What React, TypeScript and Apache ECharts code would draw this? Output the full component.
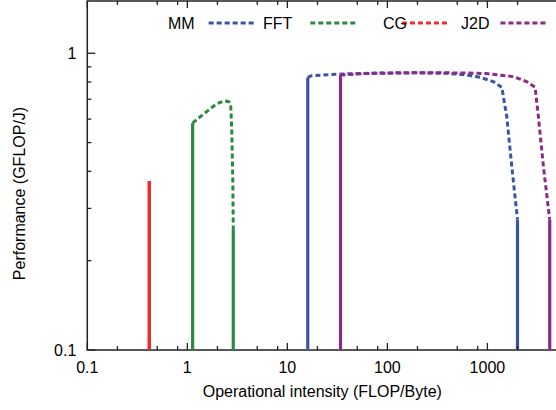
import React, { useEffect, useRef } from "react";
import * as echarts from "echarts";

// ---- Data ----
const kernels = ["MM", "FFT", "CG", "J2D"];

const mmX = [16, 17.5, 26.7, 39, 84.5, 182, 392, 622, 845, 1148, 1393, 1563, 1754, 2000];
const mmY = [0.829, 0.84, 0.847, 0.852, 0.858, 0.86, 0.856, 0.845, 0.83, 0.802, 0.768, 0.611, 0.415, 0.275];

const fftX = [1.13, 1.29, 1.56, 1.96, 2.37, 2.63, 2.72, 2.78, 2.85, 2.88];
const fftY = [0.581, 0.604, 0.636, 0.675, 0.692, 0.685, 0.661, 0.551, 0.374, 0.254];

const cgX = [0.417];
const cgY = [0.371];

const j2dX = [34, 57.5, 124, 267, 575, 986, 1820, 2477, 3000, 3236, 3631, 4200];
const j2dY = [0.845, 0.854, 0.858, 0.86, 0.858, 0.854, 0.834, 0.802, 0.768, 0.611, 0.415, 0.275];

const xMajorTicks = [0.1, 1, 10, 100, 1000];
const xMinorTicks = [0.2, 0.5, 0.8, 2, 5, 8, 20, 50, 80, 200, 500, 800, 2000];
const yMajorTicks = [0.1, 1];
const yMinorTicks = [0.2, 0.3, 0.4, 0.5, 0.6, 0.7, 0.8, 0.9];

const X_MIN = 0.1;
const X_MAX = 5000;
const Y_MIN = 0.1;
const Y_MAX = 1.5;

// ---- Styles ----
const FONT = "'Liberation Sans', Arial, Helvetica, sans-serif";
const AXIS_COLOR = "#222";
const colors: Record<string, string> = {
  MM: "#3b55a3",
  FFT: "#2b8a3e",
  CG: "#ee2a2e",
  J2D: "#8b2a8b",
};
const DASH = [5, 3];

const curves: Record<string, { xs: number[]; ys: number[] }> = {
  MM: { xs: mmX, ys: mmY },
  FFT: { xs: fftX, ys: fftY },
  CG: { xs: cgX, ys: cgY },
  J2D: { xs: j2dX, ys: j2dY },
};

const zip = (xs: number[], ys: number[]) => xs.map((x, i) => [x, ys[i]]);

function tickSeries(values: number[], axis: "x" | "y", len: number) {
  const style = { stroke: AXIS_COLOR, lineWidth: 1.3 };
  return {
    type: "custom",
    silent: true,
    clip: false,
    z: 10,
    data: values.map((v) => (axis === "x" ? [v, Y_MIN] : [X_MIN, v])),
    renderItem: (_p: any, api: any) => {
      if (axis === "x") {
        const v = api.value(0);
        const b = api.coord([v, Y_MIN]);
        const t = api.coord([v, Y_MAX]);
        return {
          type: "group",
          children: [
            { type: "line", shape: { x1: b[0], y1: b[1], x2: b[0], y2: b[1] - len }, style },
            { type: "line", shape: { x1: t[0], y1: t[1], x2: t[0], y2: t[1] + len }, style },
          ],
        };
      }
      const v = api.value(1);
      const l = api.coord([X_MIN, v]);
      return {
        type: "line",
        shape: { x1: l[0], y1: l[1], x2: l[0] + len, y2: l[1] },
        style,
      };
    },
  };
}

const majorLabel = (ticks: number[]) => (val: number) => {
  const t = ticks.find((m) => Math.abs(Math.log10(m) - Math.log10(val)) < 1e-6);
  return t === undefined ? "" : String(t);
};

export default function App() {
  const ref = useRef<HTMLDivElement>(null);

  useEffect(() => {
    if (!ref.current) return;
    const chart = echarts.init(ref.current, undefined, { renderer: "svg" });

    const series: any[] = [];
    kernels.forEach((k) => {
      const { xs, ys } = curves[k];
      const n = xs.length - 1;
      series.push({
        type: "line",
        name: k,
        data: zip(xs, ys),
        symbol: "none",
        lineStyle: { color: colors[k], width: 3, type: DASH },
        itemStyle: { color: colors[k] },
        z: 3,
      });
      series.push({
        type: "line",
        name: k + "-low",
        data: [[xs[0], Y_MIN], [xs[0], ys[0]]],
        symbol: "none",
        lineStyle: { color: colors[k], width: 3.2, type: "solid" },
        z: 4,
      });
      series.push({
        type: "line",
        name: k + "-high",
        data: [[xs[n], ys[n]], [xs[n], Y_MIN]],
        symbol: "none",
        lineStyle: { color: colors[k], width: 3.2, type: "solid" },
        z: 4,
      });
    });

    series.push(tickSeries(xMajorTicks, "x", 7));
    series.push(tickSeries(xMinorTicks, "x", 4));
    series.push(tickSeries(yMajorTicks, "y", 8));
    series.push(tickSeries(yMinorTicks, "y", 4));

    const legendLeft = [163, 258, 378, 456];
    const legendPadRight = [9, 13, -10, 6];

    const option: any = {
      animation: false,
      textStyle: { fontFamily: FONT },
      grid: {
        left: 87.3,
        top: 1,
        width: 470,
        bottom: 60,
        show: true,
        borderColor: AXIS_COLOR,
        borderWidth: 1.5,
        backgroundColor: "transparent",
        containLabel: false,
        outerBoundsMode: "none",
      },
      legend: kernels.map((k, i) => ({
        data: [k],
        left: legendLeft[i],
        top: 10,
        align: "right",
        orient: "horizontal",
        itemWidth: 48,
        itemHeight: 14,
        selectedMode: false,
        itemStyle: { opacity: 0, color: "rgba(0,0,0,0)", borderWidth: 0 },
        lineStyle: { width: 3, type: DASH, opacity: 1 },
        textStyle: {
          fontSize: 16,
          fontFamily: FONT,
          color: "#000",
          padding: [0, legendPadRight[i], 0, 0],
        },
      })),
      xAxis: {
        type: "log",
        logBase: 10,
        min: X_MIN,
        max: X_MAX,
        name: "Operational intensity (FLOP/Byte)",
        nameLocation: "middle",
        nameGap: 33,
        nameTextStyle: { fontSize: 16, fontFamily: FONT, color: "#000" },
        axisLine: { show: false },
        axisTick: { show: false },
        splitLine: { show: false },
        minorTick: { show: false },
        axisLabel: {
          fontSize: 16,
          fontFamily: FONT,
          color: "#000",
          margin: 9,
          formatter: majorLabel(xMajorTicks),
        },
      },
      yAxis: {
        type: "log",
        logBase: 10,
        min: Y_MIN,
        max: Y_MAX,
        name: "Performance (GFLOP/J)",
        nameLocation: "middle",
        nameGap: 60,
        nameRotate: 90,
        nameTextStyle: { fontSize: 16, fontFamily: FONT, color: "#000", padding: [0, 36, 0, 0] },
        axisLine: { show: false },
        axisTick: { show: false },
        splitLine: { show: false },
        minorTick: { show: false },
        axisLabel: {
          fontSize: 16,
          fontFamily: FONT,
          color: "#000",
          margin: 11,
          formatter: majorLabel(yMajorTicks),
        },
      },
      series,
    };

    chart.setOption(option);
    return () => chart.dispose();
  }, []);

  return (
    <div
      ref={ref}
      style={{ position: "fixed", left: 0, top: 0, width: 556, height: 410, background: "#fff" }}
    />
  );
}
